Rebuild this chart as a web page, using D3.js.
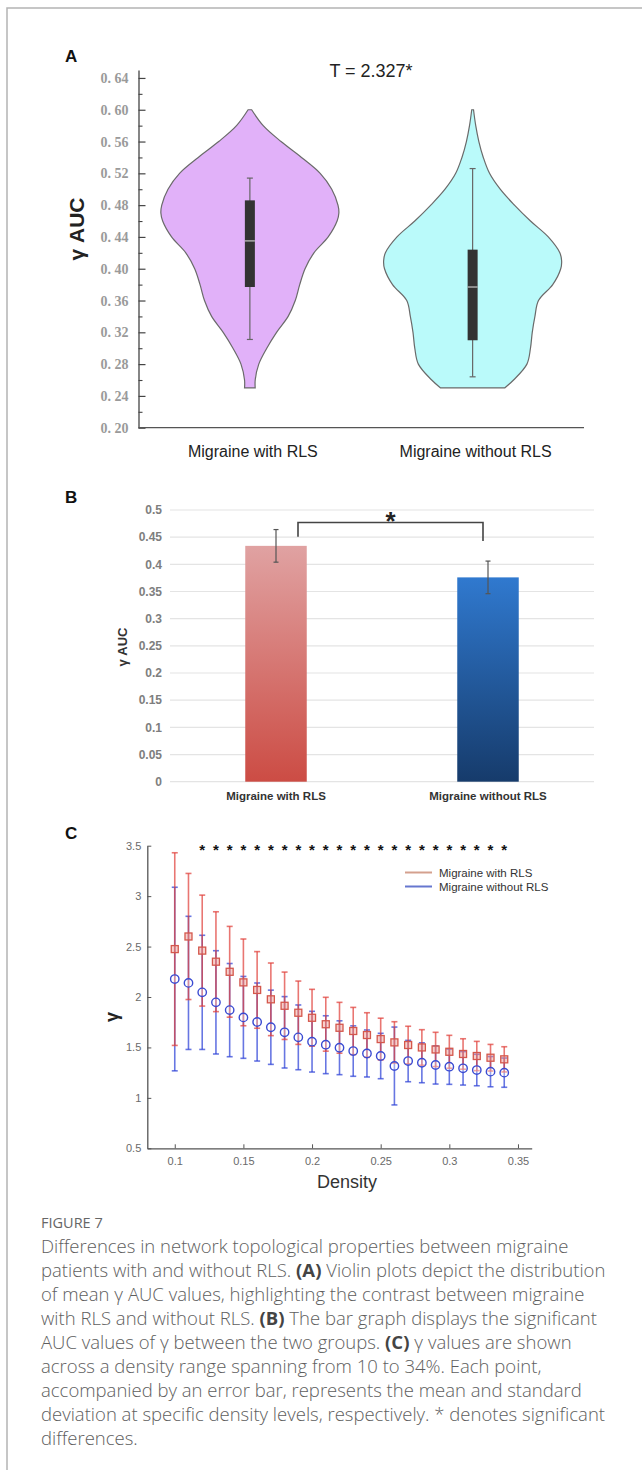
<!DOCTYPE html>
<html>
<head>
<meta charset="utf-8">
<script src="https://cdn.jsdelivr.net/npm/d3@7"></script>
<style>
  body { margin: 0; background: #fff; }
  svg { display: block; font-family: Arial, "Liberation Sans", sans-serif; }
</style>
</head>
<body>
<div class="chart"></div>
<script>
/*
 * Data
 */
const groups = ['Migraine with RLS', 'Migraine without RLS'];

// panel A: violin outlines (value, relative density) and box stats
const violinTicks = [0.20, 0.24, 0.28, 0.32, 0.36, 0.40, 0.44, 0.48, 0.52, 0.56, 0.60, 0.64];
const violinMinorTicks = [0.22, 0.26, 0.30, 0.34, 0.38, 0.42, 0.46, 0.50, 0.54, 0.58, 0.62];
const violinWithLevels = [0.25, 0.26, 0.28, 0.30, 0.32, 0.34, 0.36, 0.38, 0.40, 0.42, 0.44, 0.46, 0.47, 0.48, 0.50, 0.52, 0.54, 0.56, 0.58, 0.60];
const violinWithDensity = [0.06, 0.06, 0.10, 0.19, 0.30, 0.43, 0.51, 0.56, 0.62, 0.72, 0.88, 0.98, 1.00, 0.99, 0.92, 0.79, 0.58, 0.35, 0.15, 0.02];
const violinWithoutLevels = [0.25, 0.26, 0.28, 0.30, 0.32, 0.34, 0.36, 0.38, 0.40, 0.41, 0.42, 0.44, 0.46, 0.48, 0.50, 0.52, 0.54, 0.56, 0.58, 0.60];
const violinWithoutDensity = [0.36, 0.46, 0.61, 0.65, 0.67, 0.70, 0.74, 0.90, 0.99, 1.00, 0.98, 0.85, 0.65, 0.47, 0.31, 0.19, 0.12, 0.07, 0.035, 0.01];
const boxQ1 = [0.377, 0.310];
const boxQ3 = [0.486, 0.424];
const boxMedian = [0.435, 0.377];
const whiskerLow = [0.311, 0.264];
const whiskerHigh = [0.514, 0.526];

// panel B: mean AUC with error
const barTicks = [0, 0.05, 0.1, 0.15, 0.2, 0.25, 0.3, 0.35, 0.4, 0.45, 0.5];
const barTickLabels = ['0', '0.05', '0.1', '0.15', '0.2', '0.25', '0.3', '0.35', '0.4', '0.45', '0.5'];
const barMeans = [0.434, 0.376];
const barErrors = [0.030, 0.030];

// panel C: gamma over density
const densityTicks = [0.1, 0.15, 0.2, 0.25, 0.3, 0.35];
const densityTickLabels = ['0.1', '0.15', '0.2', '0.25', '0.3', '0.35'];
const gammaTicks = [0.5, 1, 1.5, 2, 2.5, 3, 3.5];
const gammaTickLabels = ['0.5', '1', '1.5', '2', '2.5', '3', '3.5'];
const densityLevels = [0.10, 0.11, 0.12, 0.13, 0.14, 0.15, 0.16, 0.17, 0.18, 0.19, 0.20, 0.21, 0.22, 0.23, 0.24, 0.25, 0.26, 0.27, 0.28, 0.29, 0.30, 0.31, 0.32, 0.33, 0.34];
const gammaWithMean = [2.475, 2.60, 2.46, 2.35, 2.25, 2.145, 2.07, 1.977, 1.913, 1.844, 1.794, 1.73, 1.695, 1.663, 1.623, 1.583, 1.55, 1.524, 1.50, 1.48, 1.457, 1.435, 1.415, 1.398, 1.382];
const gammaWithSd = [0.955, 0.625, 0.55, 0.495, 0.45, 0.43, 0.38, 0.36, 0.334, 0.314, 0.282, 0.267, 0.252, 0.234, 0.221, 0.207, 0.205, 0.186, 0.176, 0.17, 0.163, 0.151, 0.145, 0.132, 0.125];
const gammaWithoutMean = [2.178, 2.14, 2.046, 1.947, 1.87, 1.798, 1.752, 1.70, 1.65, 1.60, 1.557, 1.527, 1.497, 1.464, 1.44, 1.415, 1.316, 1.365, 1.348, 1.326, 1.309, 1.293, 1.276, 1.26, 1.25];
const gammaWithoutSd = [0.91, 0.66, 0.566, 0.512, 0.462, 0.406, 0.387, 0.368, 0.354, 0.321, 0.301, 0.287, 0.267, 0.25, 0.233, 0.225, 0.386, 0.205, 0.198, 0.189, 0.175, 0.166, 0.156, 0.15, 0.145];
const significantDensity = [0.12, 0.13, 0.14, 0.15, 0.16, 0.17, 0.18, 0.19, 0.20, 0.21, 0.22, 0.23, 0.24, 0.25, 0.26, 0.27, 0.28, 0.29, 0.30, 0.31, 0.32, 0.33, 0.34];

const captionLines = [
  [['Differences in network topological properties between migraine', false]],
  [['patients with and without RLS. ', false], ['(A)', true], [' Violin plots depict the distribution', false]],
  [['of mean γ AUC values, highlighting the contrast between migraine', false]],
  [['with RLS and without RLS. ', false], ['(B)', true], [' The bar graph displays the significant', false]],
  [['AUC values of γ between the two groups. ', false], ['(C)', true], [' γ values are shown', false]],
  [['across a density range spanning from 10 to 34%. Each point,', false]],
  [['accompanied by an error bar, represents the mean and standard', false]],
  [['deviation at specific density levels, respectively. * denotes significant', false]],
  [['differences.', false]]
];

const width = 642;
const height = 1470;

const svg = d3.select('.chart')
  .append('svg')
  .attr('width', width)
  .attr('height', height);

svg.append('rect').attr('width', width).attr('height', height).attr('fill', '#fff');

// frame
svg.append('path')
  .attr('d', `M7,${height} V8 H${width}`)
  .attr('fill', 'none')
  .attr('stroke', '#b4b4b4')
  .attr('stroke-width', 1.5);

const panelLabel = (txt, y) => svg.append('text')
  .attr('x', 65).attr('y', y)
  .attr('font-size', 17).attr('font-weight', 'bold').attr('fill', '#111')
  .text(txt);

// ****************** Panel A ***************************
panelLabel('A', 62);

const yA = d3.scaleLinear().domain([0.2, 0.65]).range([427.7, 70]);
const xA = d3.scaleBand().domain(groups).range([138.5, 584]);
const wA = d3.scaleLinear().domain([0, 1]).range([0, 89]);

const gA = svg.append('g');

const violins = [
  { levels: violinWithLevels, dens: violinWithDensity, fill: '#e1b1f9' },
  { levels: violinWithoutLevels, dens: violinWithoutDensity, fill: '#bafafa' }
];

violins.forEach((v, k) => {
  const cx = xA(groups[k]) + xA.bandwidth() / 2;
  const area = d3.area()
    .y((d) => yA(d[0]))
    .x0((d) => cx - wA(d[1]))
    .x1((d) => cx + wA(d[1]))
    .curve(d3.curveCatmullRom);

  gA.append('path')
    .attr('d', area(d3.zip(v.levels, v.dens)))
    .attr('fill', v.fill)
    .attr('stroke', '#6a6a6a')
    .attr('stroke-width', 1.2);

  // whiskers
  gA.append('line')
    .attr('x1', cx).attr('x2', cx)
    .attr('y1', yA(whiskerHigh[k])).attr('y2', yA(whiskerLow[k]))
    .attr('stroke', '#666').attr('stroke-width', 1.2);
  [whiskerHigh[k], whiskerLow[k]].forEach((w) => {
    gA.append('line')
      .attr('x1', cx - 3).attr('x2', cx + 3)
      .attr('y1', yA(w)).attr('y2', yA(w))
      .attr('stroke', '#666').attr('stroke-width', 1.2);
  });

  // box
  gA.append('rect')
    .attr('x', cx - 5).attr('width', 10)
    .attr('y', yA(boxQ3[k]))
    .attr('height', yA(boxQ1[k]) - yA(boxQ3[k]))
    .attr('fill', '#333');
  gA.append('line')
    .attr('x1', cx - 5).attr('x2', cx + 5)
    .attr('y1', yA(boxMedian[k])).attr('y2', yA(boxMedian[k]))
    .attr('stroke', '#c8c8c8').attr('stroke-width', 1.2);

  gA.append('text')
    .attr('x', cx + 3).attr('y', 457)
    .attr('text-anchor', 'middle')
    .attr('font-size', 16).attr('fill', '#222')
    .text(groups[k]);
});

// y axis, ticks inside
const axA = gA.append('g')
  .attr('transform', 'translate(138.5,0)')
  .call(d3.axisLeft(yA).tickValues(violinTicks)
    .tickSizeInner(-7).tickSizeOuter(0).tickPadding(10)
    .tickFormat((d) => d3.format('.2f')(d).replace('.', '. ')));
axA.select('.domain').attr('stroke', '#444').attr('stroke-width', 1.3);
axA.selectAll('.tick line').attr('stroke', '#444').attr('stroke-width', 1.2);
axA.selectAll('.tick text')
  .style('font-family', '"Liberation Serif", "DejaVu Serif", serif')
  .attr('font-size', 14).attr('font-weight', 'bold').attr('fill', '#9a9a9a');

const axAMinor = gA.append('g')
  .attr('transform', 'translate(138.5,0)')
  .call(d3.axisLeft(yA).tickValues(violinMinorTicks)
    .tickSizeInner(-4).tickSizeOuter(0).tickFormat(''));
axAMinor.select('.domain').remove();
axAMinor.selectAll('.tick line').attr('stroke', '#444').attr('stroke-width', 1.1);

gA.append('line')
  .attr('x1', 138.5).attr('x2', 584)
  .attr('y1', yA(0.2)).attr('y2', yA(0.2))
  .attr('stroke', '#555').attr('stroke-width', 1.3);

gA.append('text')
  .attr('transform', `translate(84,${229}) rotate(-90)`)
  .attr('text-anchor', 'middle')
  .attr('font-size', 21).attr('font-weight', 'bold').attr('fill', '#222')
  .text('γ AUC');

gA.append('text')
  .attr('x', 371).attr('y', 77)
  .attr('text-anchor', 'middle')
  .attr('font-size', 18).attr('fill', '#222')
  .text('T = 2.327*');

// ****************** Panel B ***************************
panelLabel('B', 503);

const yB = d3.scaleLinear().domain([0, 0.5]).range([781.7, 510]);
const xB = d3.scaleBand().domain(groups).range([170, 594]);
const barW = 61.5;

const gB = svg.append('g');
const defs = svg.append('defs');
const gradColors = [['#e0a2a2', '#cc4c44'], ['#3079cf', '#163b6b']];
gradColors.forEach((c, k) => {
  const grad = defs.append('linearGradient')
    .attr('id', `barGrad${k}`)
    .attr('x1', 0).attr('y1', 0).attr('x2', 0).attr('y2', 1);
  grad.append('stop').attr('offset', '0%').attr('stop-color', c[0]);
  grad.append('stop').attr('offset', '100%').attr('stop-color', c[1]);
});

gB.selectAll('line.grid')
  .data(barTicks)
  .enter().append('line')
  .attr('class', 'grid')
  .attr('x1', 170).attr('x2', 594)
  .attr('y1', (d) => yB(d)).attr('y2', (d) => yB(d))
  .attr('stroke', '#e4e4e4').attr('stroke-width', 1.2);

gB.selectAll('text.tick')
  .data(barTicks)
  .enter().append('text')
  .attr('class', 'tick')
  .attr('x', 162).attr('y', (d) => yB(d))
  .attr('dy', '0.35em')
  .attr('text-anchor', 'end')
  .attr('font-size', 12).attr('font-weight', 'bold').attr('fill', '#7e7e7e')
  .text((d, k) => barTickLabels[k]);

const barCx = (k) => xB(groups[k]) + xB.bandwidth() / 2;

gB.selectAll('rect.bar')
  .data(barMeans)
  .enter().append('rect')
  .attr('class', 'bar')
  .attr('x', (d, k) => barCx(k) - barW / 2)
  .attr('width', barW)
  .attr('y', (d) => yB(d))
  .attr('height', (d) => yB(0) - yB(d))
  .attr('fill', (d, k) => `url(#barGrad${k})`);

barMeans.forEach((m, k) => {
  const cx = barCx(k);
  gB.append('line')
    .attr('x1', cx).attr('x2', cx)
    .attr('y1', yB(m + barErrors[k])).attr('y2', yB(m - barErrors[k]))
    .attr('stroke', '#555').attr('stroke-width', 1.2);
  [m + barErrors[k], m - barErrors[k]].forEach((v) => {
    gB.append('line')
      .attr('x1', cx - 2.5).attr('x2', cx + 2.5)
      .attr('y1', yB(v)).attr('y2', yB(v))
      .attr('stroke', '#555').attr('stroke-width', 1.2);
  });
  gB.append('text')
    .attr('x', cx).attr('y', 800)
    .attr('text-anchor', 'middle')
    .attr('font-size', 11.5).attr('font-weight', 'bold').attr('fill', '#333')
    .text(groups[k]);
});

// significance bracket
const brL = barCx(0) + 22;
const brR = barCx(1) - 5;
gB.append('path')
  .attr('d', `M${brL},${yB(0.451)} V${yB(0.477)} H${brR} V${yB(0.443)}`)
  .attr('fill', 'none')
  .attr('stroke', '#444').attr('stroke-width', 1.6);
gB.append('text')
  .attr('x', (brL + brR) / 2).attr('y', 530)
  .attr('text-anchor', 'middle')
  .attr('font-size', 26).attr('font-weight', 'bold').attr('fill', '#222')
  .text('*');

gB.append('text')
  .attr('transform', `translate(127,${647}) rotate(-90)`)
  .attr('text-anchor', 'middle')
  .attr('font-size', 13).attr('font-weight', 'bold').attr('fill', '#333')
  .text('γ AUC');

// ****************** Panel C ***************************
panelLabel('C', 839);

const xC = d3.scaleLinear().domain([0.08, 0.36]).range([147.3, 531.7]);
const yC = d3.scaleLinear().domain([0.5, 3.5]).range([1148.3, 845.7]);

const gC = svg.append('g');

const axCx = gC.append('g')
  .attr('transform', `translate(0,${yC(0.5)})`)
  .call(d3.axisBottom(xC).tickValues(densityTicks)
    .tickSizeInner(-4).tickSizeOuter(0).tickPadding(9)
    .tickFormat((d, k) => densityTickLabels[k]));
const axCy = gC.append('g')
  .attr('transform', `translate(${xC(0.08)},0)`)
  .call(d3.axisLeft(yC).tickValues(gammaTicks)
    .tickSizeInner(-4).tickSizeOuter(0).tickPadding(6)
    .tickFormat((d, k) => gammaTickLabels[k]));
[axCx, axCy].forEach((ax) => {
  ax.select('.domain').attr('stroke', '#555').attr('stroke-width', 1.3);
  ax.selectAll('.tick line').attr('stroke', '#555');
  ax.selectAll('.tick text')
    .style('font-family', 'Arial, "Liberation Sans", sans-serif')
    .attr('font-size', 11).attr('fill', '#6a6a6a');
});

const seriesC = [
  { mean: gammaWithoutMean, sd: gammaWithoutSd, color: 'rgba(45,65,215,0.72)' },
  { mean: gammaWithMean, sd: gammaWithSd, color: 'rgba(225,65,60,0.72)' }
];

seriesC.forEach((s) => {
  const g = gC.append('g');
  densityLevels.forEach((dl, k) => {
    const cx = xC(dl);
    const hi = s.mean[k] + s.sd[k];
    const lo = s.mean[k] - s.sd[k];
    g.append('line')
      .attr('x1', cx).attr('x2', cx)
      .attr('y1', yC(hi)).attr('y2', yC(lo))
      .attr('stroke', s.color).attr('stroke-width', 1.6);
    [hi, lo].forEach((v) => {
      g.append('line')
        .attr('x1', cx - 3).attr('x2', cx + 3)
        .attr('y1', yC(v)).attr('y2', yC(v))
        .attr('stroke', s.color).attr('stroke-width', 1.6);
    });
  });
});

// markers
gC.selectAll('circle.pt')
  .data(gammaWithoutMean)
  .enter().append('circle')
  .attr('class', 'pt')
  .attr('cx', (d, k) => xC(densityLevels[k]))
  .attr('cy', (d) => yC(d))
  .attr('r', 4.2)
  .attr('fill', 'rgba(255,255,255,0.35)')
  .attr('stroke', '#3a4bd2').attr('stroke-width', 1.4);

gC.selectAll('rect.pt')
  .data(gammaWithMean)
  .enter().append('rect')
  .attr('class', 'pt')
  .attr('x', (d, k) => xC(densityLevels[k]) - 3.5)
  .attr('y', (d) => yC(d) - 3.5)
  .attr('width', 7).attr('height', 7)
  .attr('fill', 'rgba(240,150,140,0.45)')
  .attr('stroke', '#d4574c').attr('stroke-width', 1.3);

// significance row
gC.selectAll('text.sig')
  .data(significantDensity)
  .enter().append('text')
  .attr('class', 'sig')
  .attr('x', (d) => xC(d)).attr('y', 855)
  .attr('text-anchor', 'middle')
  .attr('font-size', 15).attr('font-weight', 'bold').attr('fill', '#111')
  .text('*');

// legend
const legendC = [['Migraine with RLS', '#d4a08e'], ['Migraine without RLS', '#6677cf']];
legendC.forEach((l, k) => {
  const ly = 872.5 + k * 14;
  gC.append('line')
    .attr('x1', 405).attr('x2', 432)
    .attr('y1', ly).attr('y2', ly)
    .attr('stroke', l[1]).attr('stroke-width', 2);
  gC.append('text')
    .attr('x', 439).attr('y', ly + 4.2)
    .attr('font-size', 11.5).attr('fill', '#333')
    .text(l[0]);
});

gC.append('text')
  .attr('transform', `translate(118,${1017}) rotate(-90)`)
  .attr('text-anchor', 'middle')
  .attr('font-size', 18).attr('font-weight', 'bold').attr('fill', '#222')
  .text('γ');

gC.append('text')
  .attr('x', 347).attr('y', 1188)
  .attr('text-anchor', 'middle')
  .attr('font-size', 18).attr('fill', '#333')
  .text('Density');

// ****************** Caption ***************************
const capFont = '"Open Sans", "Noto Sans", sans-serif';
svg.append('text')
  .attr('x', 41).attr('y', 1228)
  .style('font-family', capFont)
  .attr('font-size', 14.5).attr('fill', '#666')
  .text('FIGURE 7');

captionLines.forEach((parts, k) => {
  const t = svg.append('text')
    .attr('x', 41).attr('y', 1253 + k * 24)
    .style('font-family', capFont)
    .attr('font-size', 18.5).attr('fill', '#5e5e5e');
  parts.forEach((p) => {
    t.append('tspan')
      .style('font-weight', p[1] ? 700 : 300)
      .attr('fill', p[1] ? '#444' : '#5e5e5e')
      .text(p[0]);
  });
});
</script>
</body>
</html>
